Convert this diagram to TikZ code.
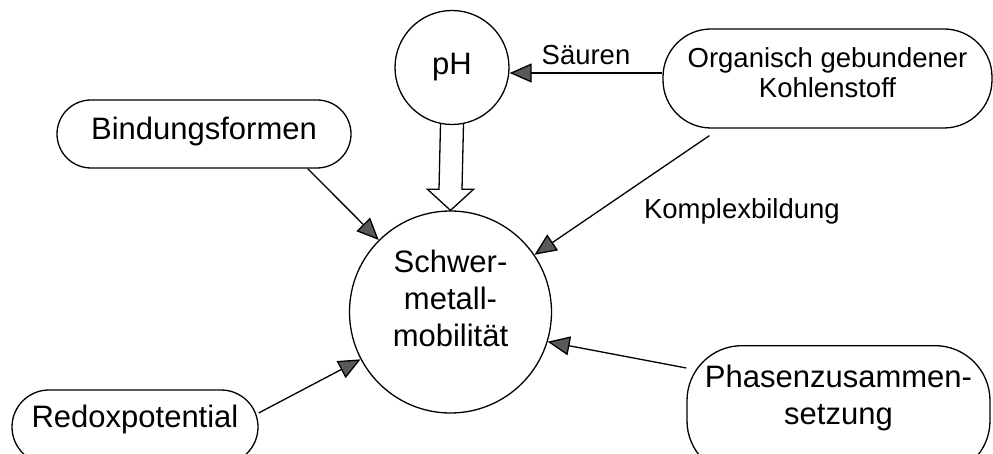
\documentclass[tikz,border=0pt]{standalone}
\usepackage{fontspec}
\setmainfont{Liberation Sans}
\usetikzlibrary{arrows.meta,calc,positioning}

\tikzset{
  big/.style={font=\fontsize{31}{37}\selectfont},
  small/.style={font=\fontsize{27.5}{30}\selectfont},
  pill/.style={draw, line width=1.3pt, align=center, inner sep=0pt},
  circ/.style={draw, circle, line width=1.3pt, align=center, inner sep=0pt},
  infl/.style={line width=1.3pt, -{Triangle[length=22pt,width=19pt,fill=black!65]}},
  fat/.style={line width=1.3pt},
  lab/.style={small, inner sep=2pt}
}

\begin{document}
\begin{tikzpicture}[x=1pt,y=-1pt]
  \useasboundingbox (0,0) rectangle (993,454);
  % Knoten
  \node[circ, big, minimum size=202pt, text height=98pt, text depth=30pt] (mob) at (450.5,312) {Schwer-\\metall-\\mobilit\"at};
  \node[circ, big, minimum size=114pt] (ph) at (452,67.5) {pH};
  \node[pill, small, rounded corners=48pt, minimum width=329pt, text height=69pt, text depth=30pt] (ogk) at (827.5,78.5) {Organisch gebundener\\Kohlenstoff};
  \node[pill, big, rounded corners=34pt, minimum width=294pt, text height=40pt, text depth=28pt] (bind) at (204,134) {Bindungsformen};
  \node[pill, big, rounded corners=37pt, minimum width=246pt, text height=37pt, text depth=37pt] (redox) at (135,427) {Redoxpotential};
  \node[pill, big, rounded corners=55pt, minimum width=303pt, text height=79pt, text depth=51pt, anchor=north] (phas) at (838.5,345) {Phasenzusammen-\\setzung};
  % Einfluesse
  \draw[infl] ([yshift=5.5pt]ogk.west) coordinate (s) -- (s -| ph.east)
      node[lab, midway, above=6pt] {S\"auren};
  \draw[infl] ([shift={(47pt,-7pt)}]ogk.south west) -- (mob)
      node[lab, pos=0.64, right=44pt] {Komplexbildung};
  \draw[infl] ([xshift=-44pt]bind.south east) -- (mob);
  \draw[infl] ([yshift=14pt]redox.east) -- (mob);
  \draw[infl] ([yshift=-23pt]phas.north west) -- (mob.-17);
  % pH-Pfeil
  \draw[fat] ($(ph.south)+(-11.5,-1.2)$) -- ($(mob.north)+(-11.5,-21)$)
     -- ($(mob.north)+(-23,-21)$) -- (mob.north) -- ($(mob.north)+(23,-21)$)
     -- ($(mob.north)+(11.5,-21)$) -- ($(ph.south)+(11.5,-1.2)$);
\end{tikzpicture}
\end{document}
